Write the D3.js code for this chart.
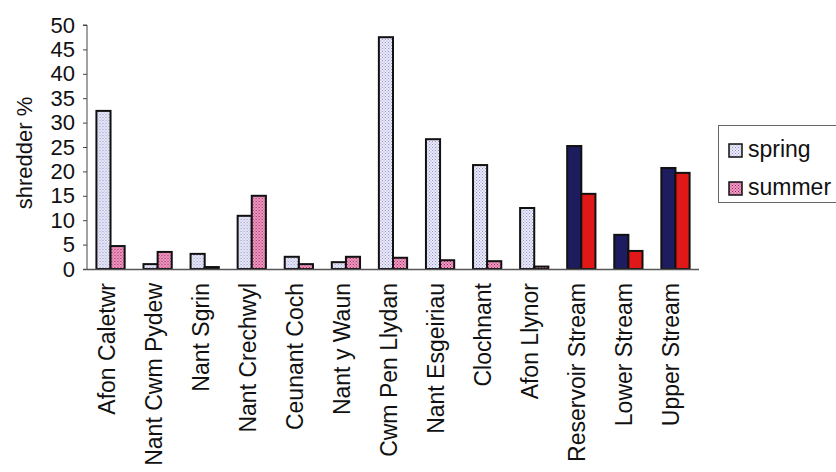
<!DOCTYPE html>
<html>
<head>
<meta charset="utf-8">
<script src="https://cdn.jsdelivr.net/npm/d3@7"></script>
<style>
  body { margin: 0; background: #fff; }
  svg { display: block; font-family: Arial, "Liberation Sans", sans-serif; }
</style>
</head>
<body>
<div id="chart"></div>
<script>
'use strict';

// data
var sites = ['Afon Caletwr', 'Nant Cwm Pydew', 'Nant Sgrin', 'Nant Crechwyl', 'Ceunant Coch',
  'Nant y Waun', 'Cwm Pen Llydan', 'Nant Esgeiriau', 'Clochnant', 'Afon Llynor',
  'Reservoir Stream', 'Lower Stream', 'Upper Stream'];
var spring = [32.4, 1.0, 3.1, 10.9, 2.5, 1.4, 47.5, 26.6, 21.3, 12.5, 25.2, 7.0, 20.7];
var summer = [4.7, 3.5, 0.4, 15.0, 1.0, 2.5, 2.3, 1.8, 1.6, 0.5, 15.4, 3.7, 19.7];
var solidSites = ['Reservoir Stream', 'Lower Stream', 'Upper Stream'];
var yTicks = [0, 5, 10, 15, 20, 25, 30, 35, 40, 45, 50];
var seriesNames = ['spring', 'summer'];

var width = 836, height = 472;
var config = {};
config.left = 87;
config.right = 699;
config.top = 25;
config.bottom = 269;
config.fontSize = 22;

var svg = d3.select('#chart').append('svg')
  .attr('width', width)
  .attr('height', height);

var defs = svg.append('defs');

//dotted fill patterns
function dotPattern(id, bg, dot) {
  var p = defs.append('pattern')
    .attr('id', id)
    .attr('patternUnits', 'userSpaceOnUse')
    .attr('width', 3).attr('height', 3);
  p.append('rect').attr('width', 3).attr('height', 3).attr('fill', bg);
  p.append('rect').attr('x', 0).attr('y', 0).attr('width', 1).attr('height', 1).attr('fill', dot);
  p.append('rect').attr('x', 1.5).attr('y', 1.5).attr('width', 1).attr('height', 1).attr('fill', dot);
}
dotPattern('springFill', '#eeeefa', '#8c8cc8');
dotPattern('summerFill', '#f0a0c8', '#a01850');

var x = d3.scaleBand()
  .domain(sites)
  .range([config.left, config.right])
  .paddingInner(0.4)
  .paddingOuter(0.2);

var x1 = d3.scaleBand()
  .domain(seriesNames)
  .range([0, x.bandwidth()]);

var y = d3.scaleLinear()
  .domain([0, 50])
  .range([config.bottom, config.top]);

var rows = sites.map(function(s, i) {
  return { site: s, values: [spring[i], summer[i]], solid: solidSites.indexOf(s) >= 0 };
});

var groups = svg.append('g').selectAll('g')
  .data(rows)
  .enter().append('g')
  .attr('transform', function(d) { return 'translate(' + x(d.site) + ',0)'; });

groups.selectAll('rect')
  .data(function(d) {
    return d.values.map(function(v, j) { return { key: seriesNames[j], v: v, solid: d.solid }; });
  })
  .enter().append('rect')
  .attr('x', function(d) { return x1(d.key); })
  .attr('y', function(d) { return y(d.v); })
  .attr('width', x1.bandwidth())
  .attr('height', function(d) { return y(0) - y(d.v); })
  .attr('fill', function(d) {
    if (d.solid) return d.key === 'spring' ? '#1c1c5e' : '#e01818';
    return d.key === 'spring' ? 'url(#springFill)' : 'url(#summerFill)';
  })
  .attr('stroke', '#111')
  .attr('stroke-width', 2);

// y axis
var yAxis = svg.append('g')
  .attr('transform', 'translate(' + config.left + ',0)')
  .call(d3.axisLeft(y).tickValues(yTicks).tickSize(4).tickPadding(8));
yAxis.select('.domain').attr('stroke', '#444').attr('d', 'M-4,' + config.top + 'H0V' + config.bottom);
yAxis.selectAll('.tick line').attr('stroke', '#444');
yAxis.selectAll('text').attr('fill', '#111').style('font-size', config.fontSize + 'px')
  .attr('font-family', 'Arial, "Liberation Sans", sans-serif');

// x axis line
svg.append('line')
  .attr('x1', config.left - 4).attr('x2', config.right)
  .attr('y1', config.bottom + 0.5).attr('y2', config.bottom + 0.5)
  .attr('stroke', '#555').attr('stroke-width', 1.5);

// category labels
svg.append('g').selectAll('text')
  .data(sites)
  .enter().append('text')
  .attr('transform', function(d) {
    return 'translate(' + (x(d) + x.bandwidth() / 2 + 4) + ',' + (config.bottom + 14) + ') rotate(-90)';
  })
  .attr('text-anchor', 'end')
  .attr('fill', '#111')
  .style('font-size', '23px')
  .text(function(d) { return d; });

// y axis title
svg.append('text')
  .attr('transform', 'translate(32,' + 153 + ') rotate(-90)')
  .attr('text-anchor', 'middle')
  .attr('fill', '#111')
  .style('font-size', config.fontSize + 'px')
  .text('shredder %');

// legend
var legend = svg.append('g');
legend.append('rect')
  .attr('x', 718.5).attr('y', 125.5)
  .attr('width', 130).attr('height', 77)
  .attr('fill', '#fff').attr('stroke', '#666');

var items = legend.selectAll('g')
  .data(seriesNames)
  .enter().append('g')
  .attr('transform', function(d, i) { return 'translate(729,' + (144 + i * 38) + ')'; });
items.append('rect')
  .attr('width', 13).attr('height', 13)
  .attr('fill', function(d) { return d === 'spring' ? 'url(#springFill)' : 'url(#summerFill)'; })
  .attr('stroke', '#111').attr('stroke-width', 1.5);
items.append('text')
  .attr('x', 19).attr('y', 13)
  .attr('fill', '#111')
  .style('font-size', '23px')
  .text(function(d) { return d; });
</script>
</body>
</html>
